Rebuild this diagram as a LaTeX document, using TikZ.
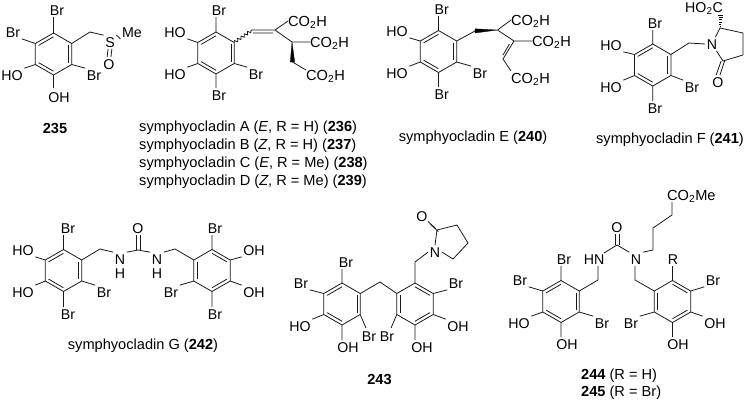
\documentclass[tikz,border=0pt]{standalone}
\usepackage{fontspec}
\setmainfont{Liberation Sans}
\usetikzlibrary{calc,decorations.pathmorphing}
\tikzset{
  x=1pt,y=-1pt,
  atom/.style={inner sep=1.5pt,text height=10.3pt,text depth=0pt,font=\fontsize{14.2}{16}\selectfont},
  captxt/.style={inner sep=0pt,text height=10.3pt,text depth=0pt,font=\fontsize{14.6}{16}\selectfont,anchor=west},
  bond/.style={line width=0.8pt,line join=round,draw=black!90},
  wavy/.style={bond,decorate,decoration={snake,amplitude=1.5pt,segment length=4pt}},
  wedgebond/.style={fill=black,draw=black,line width=0.3pt,line join=round},
}
% ring: prefix, cx, cy, kind (A: 6-1,2-3,4-5; B: 1-2,3-4,5-6)
\newcommand{\benz}[4]{%
  \coordinate (#1c) at (#2,#3);
  \coordinate (#11) at (#2,#3-21);
  \coordinate (#12) at (#2+18.2,#3-10.5);
  \coordinate (#13) at (#2+18.2,#3+10.5);
  \coordinate (#14) at (#2,#3+21);
  \coordinate (#15) at (#2-18.2,#3+10.5);
  \coordinate (#16) at (#2-18.2,#3-10.5);
  \draw[bond] (#11)--(#12)--(#13)--(#14)--(#15)--(#16)--cycle;
  \if#4A
    \draw[bond] ($(#16)!.18!(#1c)$)--($(#11)!.18!(#1c)$);
    \draw[bond] ($(#12)!.18!(#1c)$)--($(#13)!.18!(#1c)$);
    \draw[bond] ($(#14)!.18!(#1c)$)--($(#15)!.18!(#1c)$);
  \else
    \draw[bond] ($(#11)!.18!(#1c)$)--($(#12)!.18!(#1c)$);
    \draw[bond] ($(#13)!.18!(#1c)$)--($(#14)!.18!(#1c)$);
    \draw[bond] ($(#15)!.18!(#1c)$)--($(#16)!.18!(#1c)$);
  \fi
}
\newcommand{\cooh}{CO\textsubscript{2}H}
\begin{document}
\begin{tikzpicture}
\useasboundingbox (0,0) rectangle (747,400);
% ---------- 235
\benz{a}{53.5}{54}{A}
\node[atom] (aBr1) at (57,10) {Br};
\node[atom] (aBr2) at (13,32) {Br};
\node[atom] (aHO) at (12,75) {HO};
\node[atom] (aOH) at (59,97) {OH};
\node[atom] (aBr3) at (94,75) {Br};
\node[atom] (aS) at (110,42) {S};
\node[atom] (aMe) at (132,32) {Me};
\node[atom] (aO) at (109,64) {O};
\coordinate (ach) at (90,32);
\draw[bond] (a1)--(53.5,17) (a6)--(aBr2.south east) (a5)--(aHO.north east) (a4)--(53.5,88) (a3)--(aBr3.north west);
\draw[bond] (a2)--(ach)--(aS.north west) (aS.north east)--(aMe.south west);
\draw[bond] ([xshift=-1.9pt]aS.south)--([xshift=-1.9pt]aO.north) ([xshift=1.9pt]aS.south)--([xshift=1.9pt]aO.north);
\node[captxt,anchor=center,font=\fontsize{14.6}{16}\selectfont\bfseries] (l235) at (55,128) {235};
% ---------- 236-239
\benz{b}{216}{53}{A}
\node[atom] (bBr1) at (219,10) {Br};
\node[atom] (bHO1) at (175,32) {HO};
\node[atom] (bHO2) at (175,74) {HO};
\node[atom] (bBr2) at (256,74) {Br};
\node[atom] (bBr3) at (219,95) {Br};
\node[captxt] (bA1) at (288,21) {\cooh};
\node[captxt] (bA2) at (310,42) {\cooh};
\node[captxt] (bA3) at (306,75) {\cooh};
\coordinate (bv) at (252,30);
\coordinate (bw) at (275,30);
\coordinate (bx) at (292,42);
\coordinate (by) at (292.5,62);
\coordinate (bz) at (306,70);
\draw[bond] (b1)--(216,17) (b6)--(bHO1.south east) (b5)--(bHO2.north east) (b3)--(bBr2.north west) (b4)--(216,88);
\draw[wavy] (b2)--(bv);
\draw[bond] (bv)--(bw) (253,33)--(273,33) (bw)--(bA1.west) (bw)--(bx)--(bA2.west) (by)--(bz);
\fill[wedgebond] (bx)--(290.3,62)--(294.7,62)--cycle;
\node[captxt] (t236) at (139,126) {symphyocladin A (\textit{E}, R = H) (\textbf{236})};
\node[captxt] (t237) at (139,144) {symphyocladin B (\textit{Z}, R = H) (\textbf{237})};
\node[captxt] (t238) at (139,162) {symphyocladin C (\textit{E}, R = Me) (\textbf{238})};
\node[captxt] (t239) at (139,180) {symphyocladin D (\textit{Z}, R = Me) (\textbf{239})};
% ---------- 240
\benz{c}{438.5}{51.5}{A}
\node[atom] (cBr1) at (441.7,9) {Br};
\node[atom] (cHO1) at (397,31) {HO};
\node[atom] (cHO2) at (397,73) {HO};
\node[atom] (cBr2) at (480,73) {Br};
\node[atom] (cBr3) at (441.7,94) {Br};
\node[captxt] (cA1) at (511,20) {\cooh};
\node[captxt] (cA2) at (532,41) {\cooh};
\node[captxt] (cA3) at (511,78) {\cooh};
\coordinate (cu) at (475,31);
\coordinate (cv) at (497.5,30);
\coordinate (cw) at (514,41);
\coordinate (cx) at (503,59);
\coordinate (cy) at (511,71);
\draw[bond] (c1)--(438.5,16) (c6)--(cHO1.south east) (c5)--(cHO2.north east) (c3)--(cBr2.north west) (c4)--(438.5,87);
\draw[bond] (c2)--(cu) (cv)--(cA1.west) (cv)--(cw)--(cA2.west) (cw)--(cx)--(cy) (509.5,44)--(503,55);
\fill[wedgebond] (cv)--(475,28.8)--(475,33)--cycle;
\node[captxt,anchor=center] (t240) at (473,136) {symphyocladin E (\textbf{240})};
% ---------- 241
\benz{d}{652.7}{65}{A}
\node[atom] (dBr1) at (655,23) {Br};
\node[atom] (dHO1) at (611,45) {HO};
\node[atom] (dHO2) at (611,87) {HO};
\node[atom] (dBr2) at (692,87) {Br};
\node[atom] (dBr3) at (655,108) {Br};
\node[atom] (dN) at (712,44) {N};
\node[atom] (dO) at (718,82) {O};
\node[atom] (dHOC) at (704,7) {HO\textsubscript{2}C};
\coordinate (dch) at (689,43);
\coordinate (dC2) at (720,28);
\coordinate (dC3) at (743,33);
\coordinate (dC4) at (743,55);
\coordinate (dC5) at (723,61);
\draw[bond] (d1)--(652.7,30) (d6)--(dHO1.south east) (d5)--(dHO2.north east) (d3)--(dBr2.north west) (d4)--(652.7,101);
\draw[bond] (d2)--(dch)--(dN.west) (dN)--(dC2)--(dC3)--(dC4)--(dC5)--(dN);
\draw[bond] ([xshift=-1.9pt]dC5)--([xshift=-1.9pt]dO.north) ([xshift=1.9pt,yshift=1pt]dC5)--([xshift=1.9pt]dO.north);
\foreach \t/\w in {.1/.5,.25/.9,.4/1.3,.55/1.7,.7/2.1,.85/2.5}
  \draw[line width=0.7pt] ($(dC2)!\t!(721,13)+(-\w,0)$)--($(dC2)!\t!(721,13)+(\w,0)$);
\node[captxt,anchor=center] (t241) at (670,138) {symphyocladin F (\textbf{241})};
% ---------- 242
\benz{e}{63.5}{270.5}{A}
\benz{f}{212}{270.5}{B}
\node[atom] (eBr1) at (68,228) {Br};
\node[atom] (eHO1) at (23,250) {HO};
\node[atom] (eHO2) at (23,292) {HO};
\node[atom] (eBr2) at (104,292) {Br};
\node[atom] (eBr3) at (68,314) {Br};
\node[atom] (eN1) at (120,259) {N};
\node[atom] (eH1) at (120,273) {H};
\node[atom] (eO) at (138,228) {O};
\node[atom] (eN2) at (157,259) {N};
\node[atom] (eH2) at (157,273) {H};
\coordinate (ech1) at (100,249);
\coordinate (eC) at (138,250);
\coordinate (ech2) at (175,249);
\node[atom] (fBr1) at (215,228) {Br};
\node[atom] (fOH1) at (254,250) {OH};
\node[atom] (fOH2) at (254,292) {OH};
\node[atom] (fBr2) at (171,292) {Br};
\node[atom] (fBr3) at (215,314) {Br};
\draw[bond] (e1)--(63.5,235) (e6)--(eHO1.south east) (e5)--(eHO2.north east) (e3)--(eBr2.north west) (e4)--(63.5,307);
\draw[bond] (e2)--(ech1)--(eN1.north west) (eN1.north east)--(eC)--(eN2.north west) (eN2.north east)--(ech2)--(f6);
\draw[bond] ([xshift=-1.9pt]eC)--([xshift=-1.9pt]eO.south) ([xshift=1.9pt]eC)--([xshift=1.9pt]eO.south);
\draw[bond] (f1)--(212,235) (f2)--(fOH1.south west) (f3)--(fOH2.north west) (f5)--(fBr2.north east) (f4)--(212,307);
\node[captxt,anchor=center] (t242) at (143,344) {symphyocladin G (\textbf{242})};
% ---------- 243
\benz{g}{342}{304}{A}
\benz{h}{415}{304}{B}
\node[atom] (gBr1) at (346,262) {Br};
\node[atom] (gBr2) at (301,283) {Br};
\node[atom] (gHO) at (300,326) {HO};
\node[atom] (gOH) at (348,347) {OH};
\node[atom] (gBr3) at (369,336) {Br};
\coordinate (gch) at (380,282);
\node[atom] (hBr1) at (456,283) {Br};
\node[atom] (hOH1) at (458,326) {OH};
\node[atom] (hOH2) at (422,347) {OH};
\node[atom] (hBr2) at (387,336) {Br};
\node[atom] (hN) at (435,252) {N};
\node[atom] (hO) at (422,216) {O};
\coordinate (hch) at (415,262);
\coordinate (hC) at (437,230);
\coordinate (hC3) at (457,225);
\coordinate (hC4) at (468,243);
\coordinate (hC5) at (453,259);
\draw[bond] (g1)--(342,269) (g6)--(gBr2.south east) (g5)--(gHO.north east) (g4)--(342,340) (g3)--(366,328);
\draw[bond] (g2)--(gch)--(h6);
\draw[bond] (h1)--(hch)--(hN.west) (hN.north)--(hC)--(hC3)--(hC4)--(hC5)--(hN.east);
\draw[bond] (h2)--(hBr1.south west) (h3)--(hOH1.north west) (h4)--(415,340) (h5)--(391,328);
\draw[bond] ($(hC)+(-1.3,-1.5)$)--($(hO.south east)+(-1.3,-1.5)$) ($(hC)+(1.3,1.5)$)--($(hO.south east)+(1.3,1.5)$);
\node[captxt,anchor=center,font=\fontsize{14.6}{16}\selectfont\bfseries] (l243) at (379.5,379) {243};
% ---------- 244/245
\benz{i}{561}{301.5}{A}
\benz{j}{672.5}{301.5}{B}
\node[atom] (iBr1) at (564,259) {Br};
\node[atom] (iBr2) at (520,280) {Br};
\node[atom] (iHO) at (519,323) {HO};
\node[atom] (iOH) at (567,344) {OH};
\node[atom] (iBr3) at (602,323) {Br};
\node[atom] (iHN) at (594,259) {HN};
\node[atom] (iO) at (617,227) {O};
\node[atom] (iN) at (636,259) {N};
\node[captxt] (iCO) at (667,195) {CO\textsubscript{2}Me};
\coordinate (ich1) at (598,280);
\coordinate (iC) at (617,245);
\coordinate (ip1) at (653,250);
\coordinate (ip2) at (653,228);
\coordinate (ip3) at (672,215);
\coordinate (ich2) at (635,280);
\node[atom] (jR) at (673,259) {R};
\node[atom] (jBr1) at (713,280) {Br};
\node[atom] (jOH1) at (715,323) {OH};
\node[atom] (jOH2) at (678,344) {OH};
\node[atom] (jBr2) at (631,323) {Br};
\draw[bond] (i1)--(561,266) (i6)--(iBr2.south east) (i5)--(iHO.north east) (i4)--(561,337) (i3)--(iBr3.north west);
\draw[bond] (i2)--(ich1)--(598,266) (604,253)--(iC)--(iN.north west) (iN.north east)--(ip1)--(ip2)--(ip3)--(672,202);
\draw[bond] ([xshift=-1.9pt]iC)--([xshift=-1.9pt]iO.south) ([xshift=1.9pt]iC)--([xshift=1.9pt]iO.south);
\draw[bond] (635,266)--(ich2)--(j6);
\draw[bond] (j1)--(672.5,266) (j2)--(jBr1.south west) (j3)--(jOH1.north west) (j4)--(672.5,337) (j5)--(jBr2.north east);
\node[captxt] (t244) at (581,374) {\textbf{244} (R = H)};
\node[captxt] (t245) at (581,391) {\textbf{245} (R = Br)};
\end{tikzpicture}
\end{document}
